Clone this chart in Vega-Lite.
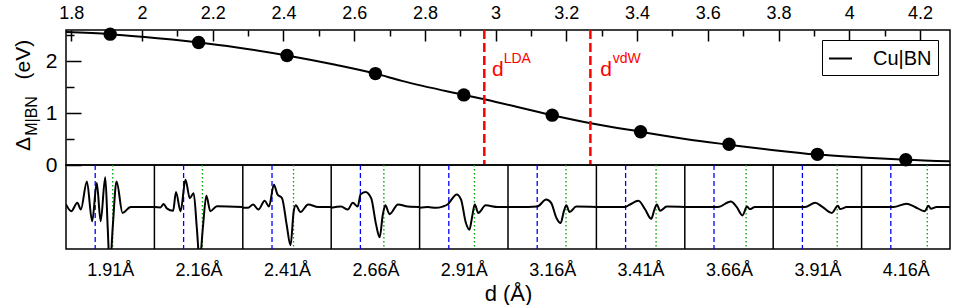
{
  "$schema": "https://vega.github.io/schema/vega-lite/v6.json",
  "padding": {"left": 12, "top": 3, "right": 0, "bottom": 0},
  "spacing": 0,
  "bounds": "flush",
  "config": {
    "font": "Liberation Sans",
    "view": {"stroke": "black", "strokeWidth": 1.5},
    "axis": {"grid": false, "labelFont": "Liberation Sans", "titleFont": "Liberation Sans", "labelColor": "black", "titleColor": "black", "tickColor": "black", "domainColor": "black", "domainWidth": 1.5, "tickWidth": 1.5, "titleFontWeight": "normal"},
    "text": {"font": "Liberation Sans"}
  },
  "datasets": {
    "curve": [
      {"d": 1.785, "v": 2.56}, {"d": 1.91, "v": 2.52}, {"d": 2.0, "v": 2.47}, {"d": 2.16, "v": 2.36},
      {"d": 2.264, "v": 2.27}, {"d": 2.41, "v": 2.11}, {"d": 2.547, "v": 1.93}, {"d": 2.66, "v": 1.76},
      {"d": 2.735, "v": 1.62}, {"d": 2.91, "v": 1.35}, {"d": 2.971, "v": 1.26}, {"d": 3.16, "v": 0.96},
      {"d": 3.273, "v": 0.8}, {"d": 3.41, "v": 0.64}, {"d": 3.536, "v": 0.5}, {"d": 3.66, "v": 0.39},
      {"d": 3.781, "v": 0.29}, {"d": 3.91, "v": 0.2}, {"d": 4.064, "v": 0.135}, {"d": 4.16, "v": 0.1},
      {"d": 4.285, "v": 0.07}
    ],
    "dots": [
      {"d": 1.91, "v": 2.52}, {"d": 2.16, "v": 2.36}, {"d": 2.41, "v": 2.11}, {"d": 2.66, "v": 1.76},
      {"d": 2.91, "v": 1.35}, {"d": 3.16, "v": 0.96}, {"d": 3.41, "v": 0.64}, {"d": 3.66, "v": 0.4},
      {"d": 3.91, "v": 0.205}, {"d": 4.16, "v": 0.1}
    ],
    "refs": [{"d": 2.968, "name": "LDA"}, {"d": 3.268, "name": "vdW"}],
    "bounds": [{"d": 2.035}, {"d": 2.285}, {"d": 2.535}, {"d": 2.785}, {"d": 3.035}, {"d": 3.285}, {"d": 3.535}, {"d": 3.785}, {"d": 4.035}],
    "metal": [{"d": 1.8676}, {"d": 2.1176}, {"d": 2.3676}, {"d": 2.6176}, {"d": 2.8676}, {"d": 3.1176}, {"d": 3.3676}, {"d": 3.6176}, {"d": 3.8676}, {"d": 4.1176}],
    "bn": [{"d": 1.9171}, {"d": 2.1707}, {"d": 2.4284}, {"d": 2.684}, {"d": 2.94}, {"d": 3.199}, {"d": 3.4538}, {"d": 3.7084}, {"d": 3.966}, {"d": 4.2208}],
    "strip": [
      {"p": 1, "d": 1.785, "v": 0.06}, {"p": 1, "d": 1.8, "v": -0.1}, {"p": 1, "d": 1.817, "v": 0.1}, {"p": 1, "d": 1.827, "v": -0.06},
      {"p": 1, "d": 1.844, "v": 0.61}, {"p": 1, "d": 1.859, "v": -0.34}, {"p": 1, "d": 1.872, "v": 0.57}, {"p": 1, "d": 1.883, "v": -0.34},
      {"p": 1, "d": 1.896, "v": 0.71}, {"p": 1, "d": 1.903, "v": -0.5}, {"p": 1, "d": 1.909, "v": -1.5}, {"p": 1, "d": 1.917, "v": -0.5},
      {"p": 1, "d": 1.928, "v": 0.61}, {"p": 1, "d": 1.945, "v": -0.14}, {"p": 1, "d": 1.968, "v": 0}, {"p": 1, "d": 2.035, "v": 0},
      {"p": 2, "d": 2.035, "v": 0}, {"p": 2, "d": 2.052, "v": -0.01}, {"p": 2, "d": 2.061, "v": 0.07}, {"p": 2, "d": 2.071, "v": -0.04},
      {"p": 2, "d": 2.088, "v": -0.09}, {"p": 2, "d": 2.096, "v": 0.36}, {"p": 2, "d": 2.109, "v": -0.1}, {"p": 2, "d": 2.123, "v": 0.65},
      {"p": 2, "d": 2.135, "v": 0.21}, {"p": 2, "d": 2.146, "v": 0.33}, {"p": 2, "d": 2.155, "v": -0.5}, {"p": 2, "d": 2.163, "v": -1.3},
      {"p": 2, "d": 2.172, "v": -0.5}, {"p": 2, "d": 2.182, "v": 0.27}, {"p": 2, "d": 2.193, "v": -0.1}, {"p": 2, "d": 2.212, "v": 0.02},
      {"p": 2, "d": 2.285, "v": 0},
      {"p": 3, "d": 2.285, "v": -0.02}, {"p": 3, "d": 2.3, "v": -0.02}, {"p": 3, "d": 2.314, "v": 0.06}, {"p": 3, "d": 2.329, "v": -0.06},
      {"p": 3, "d": 2.347, "v": 0.15}, {"p": 3, "d": 2.359, "v": 0.01}, {"p": 3, "d": 2.373, "v": 0.53}, {"p": 3, "d": 2.383, "v": 0.3},
      {"p": 3, "d": 2.396, "v": 0.21}, {"p": 3, "d": 2.409, "v": -0.42}, {"p": 3, "d": 2.42, "v": -0.91}, {"p": 3, "d": 2.429, "v": -0.1},
      {"p": 3, "d": 2.435, "v": 0.04}, {"p": 3, "d": 2.448, "v": -0.12}, {"p": 3, "d": 2.47, "v": 0.06}, {"p": 3, "d": 2.498, "v": 0},
      {"p": 3, "d": 2.535, "v": 0},
      {"p": 4, "d": 2.535, "v": -0.02}, {"p": 4, "d": 2.563, "v": 0.01}, {"p": 4, "d": 2.582, "v": -0.06}, {"p": 4, "d": 2.596, "v": 0.1},
      {"p": 4, "d": 2.61, "v": 0.01}, {"p": 4, "d": 2.618, "v": 0.3}, {"p": 4, "d": 2.632, "v": 0.36}, {"p": 4, "d": 2.648, "v": 0.21},
      {"p": 4, "d": 2.662, "v": -0.42}, {"p": 4, "d": 2.672, "v": -0.72}, {"p": 4, "d": 2.681, "v": -0.18}, {"p": 4, "d": 2.688, "v": 0.04},
      {"p": 4, "d": 2.7, "v": -0.17}, {"p": 4, "d": 2.724, "v": 0.06}, {"p": 4, "d": 2.752, "v": 0.01}, {"p": 4, "d": 2.785, "v": 0},
      {"p": 5, "d": 2.785, "v": -0.02}, {"p": 5, "d": 2.808, "v": 0}, {"p": 5, "d": 2.831, "v": -0.02}, {"p": 5, "d": 2.85, "v": 0.01},
      {"p": 5, "d": 2.864, "v": 0.06}, {"p": 5, "d": 2.89, "v": 0.3}, {"p": 5, "d": 2.902, "v": 0.18}, {"p": 5, "d": 2.916, "v": -0.38},
      {"p": 5, "d": 2.926, "v": -0.54}, {"p": 5, "d": 2.933, "v": -0.26}, {"p": 5, "d": 2.941, "v": 0.06}, {"p": 5, "d": 2.951, "v": -0.14},
      {"p": 5, "d": 2.972, "v": 0.04}, {"p": 5, "d": 3.006, "v": 0}, {"p": 5, "d": 3.035, "v": 0},
      {"p": 6, "d": 3.035, "v": 0}, {"p": 6, "d": 3.092, "v": 0}, {"p": 6, "d": 3.118, "v": 0.01}, {"p": 6, "d": 3.143, "v": 0.18},
      {"p": 6, "d": 3.157, "v": 0.1}, {"p": 6, "d": 3.172, "v": -0.26}, {"p": 6, "d": 3.184, "v": -0.38}, {"p": 6, "d": 3.193, "v": -0.1},
      {"p": 6, "d": 3.2, "v": 0.04}, {"p": 6, "d": 3.209, "v": -0.12}, {"p": 6, "d": 3.228, "v": 0.01}, {"p": 6, "d": 3.285, "v": 0},
      {"p": 7, "d": 3.285, "v": 0}, {"p": 7, "d": 3.366, "v": 0}, {"p": 7, "d": 3.38, "v": 0.06}, {"p": 7, "d": 3.404, "v": 0.15},
      {"p": 7, "d": 3.423, "v": -0.06}, {"p": 7, "d": 3.44, "v": -0.28}, {"p": 7, "d": 3.449, "v": -0.06}, {"p": 7, "d": 3.456, "v": 0.06},
      {"p": 7, "d": 3.465, "v": -0.09}, {"p": 7, "d": 3.484, "v": 0.01}, {"p": 7, "d": 3.535, "v": 0},
      {"p": 8, "d": 3.535, "v": 0}, {"p": 8, "d": 3.629, "v": 0}, {"p": 8, "d": 3.665, "v": 0.13}, {"p": 8, "d": 3.681, "v": 0.01},
      {"p": 8, "d": 3.698, "v": -0.2}, {"p": 8, "d": 3.711, "v": 0.01}, {"p": 8, "d": 3.719, "v": -0.05}, {"p": 8, "d": 3.733, "v": 0},
      {"p": 8, "d": 3.785, "v": 0},
      {"p": 9, "d": 3.785, "v": 0}, {"p": 9, "d": 3.875, "v": 0}, {"p": 9, "d": 3.904, "v": 0.1}, {"p": 9, "d": 3.923, "v": 0.01},
      {"p": 9, "d": 3.951, "v": -0.14}, {"p": 9, "d": 3.968, "v": 0.03}, {"p": 9, "d": 3.974, "v": -0.05}, {"p": 9, "d": 3.993, "v": 0},
      {"p": 9, "d": 4.035, "v": 0},
      {"p": 10, "d": 4.035, "v": 0}, {"p": 10, "d": 4.125, "v": 0}, {"p": 10, "d": 4.162, "v": 0.08}, {"p": 10, "d": 4.186, "v": 0},
      {"p": 10, "d": 4.214, "v": -0.1}, {"p": 10, "d": 4.224, "v": 0.03}, {"p": 10, "d": 4.231, "v": -0.04}, {"p": 10, "d": 4.247, "v": 0},
      {"p": 10, "d": 4.285, "v": 0}
    ]
  },
  "vconcat": [
    {
      "width": 884,
      "height": 135,
      "layer": [
        {
          "layer": [
            {
              "data": {"name": "curve"},
              "mark": {"type": "line", "interpolate": "monotone", "strokeWidth": 2},
              "encoding": {
                "x": {"field": "d", "type": "quantitative", "scale": {"domain": [1.785, 4.285], "nice": false, "zero": false},
                      "axis": {"orient": "top", "values": [1.8, 2, 2.2, 2.4, 2.6, 2.8, 3, 3.2, 3.4, 3.6, 3.8, 4, 4.2], "format": "~g", "offset": -11, "tickSize": 11, "domain": false, "labelPadding": 8, "labelFontSize": 18, "title": null}},
                "y": {"field": "v", "type": "quantitative", "scale": {"domain": [0, 2.6], "nice": false, "zero": false},
                      "axis": {"values": [0, 1, 2], "format": "~g", "offset": -15, "tickSize": 15, "domain": false, "labelPadding": 9, "labelFontSize": 21, "title": null}},
                "color": {"datum": "Cu|BN", "type": "nominal", "scale": {"range": ["black"]},
                          "legend": {"title": null, "orient": "none", "legendX": 756, "legendY": 10, "symbolType": "stroke", "symbolStrokeWidth": 2, "symbolSize": 529, "labelFontSize": 20, "labelFont": "Liberation Sans", "labelColor": "black", "strokeColor": "black", "fillColor": "white", "padding": 6, "labelOffset": 20}}
              }
            },
            {
              "data": {"name": "refs"},
              "mark": {"type": "rule", "color": "#ff0000", "strokeWidth": 2.5, "strokeDash": [9, 4]},
              "encoding": {"x": {"field": "d", "type": "quantitative"}}
            },
            {
              "data": {"values": [{}]},
              "mark": {"type": "text", "text": "d", "color": "#ff0000", "fontSize": 21, "align": "left", "baseline": "alphabetic"},
              "encoding": {"x": {"datum": 2.9897, "type": "quantitative"}, "y": {"datum": 1.715, "type": "quantitative"}}
            },
            {
              "data": {"values": [{}]},
              "mark": {"type": "text", "text": "LDA", "color": "#ff0000", "fontSize": 14, "align": "left", "baseline": "alphabetic"},
              "encoding": {"x": {"datum": 3.0228, "type": "quantitative"}, "y": {"datum": 1.971, "type": "quantitative"}}
            },
            {
              "data": {"values": [{}]},
              "mark": {"type": "text", "text": "d", "color": "#ff0000", "fontSize": 21, "align": "left", "baseline": "alphabetic"},
              "encoding": {"x": {"datum": 3.296, "type": "quantitative"}, "y": {"datum": 1.715, "type": "quantitative"}}
            },
            {
              "data": {"values": [{}]},
              "mark": {"type": "text", "text": "vdW", "color": "#ff0000", "fontSize": 14, "align": "left", "baseline": "alphabetic"},
              "encoding": {"x": {"datum": 3.331, "type": "quantitative"}, "y": {"datum": 1.971, "type": "quantitative"}}
            },
            {
              "data": {"values": [{}]},
              "mark": {"type": "text", "text": "(eV)", "color": "black", "fontSize": 21, "angle": 270, "align": "center", "baseline": "middle"},
              "encoding": {"x": {"datum": 1.666, "type": "quantitative"}, "y": {"datum": 2.03, "type": "quantitative"}}
            },
            {
              "data": {"values": [{}]},
              "mark": {"type": "text", "text": "M|BN", "color": "black", "fontSize": 16, "angle": 270, "align": "center", "baseline": "middle"},
              "encoding": {"x": {"datum": 1.689, "type": "quantitative"}, "y": {"datum": 0.944, "type": "quantitative"}}
            },
            {
              "data": {"values": [{}]},
              "mark": {"type": "text", "text": "Δ", "color": "black", "fontSize": 21, "angle": 270, "align": "center", "baseline": "middle"},
              "encoding": {"x": {"datum": 1.666, "type": "quantitative"}, "y": {"datum": 0.405, "type": "quantitative"}}
            }
          ]
        },
        {
          "data": {"name": "dots"},
          "mark": {"type": "circle", "size": 180, "color": "black", "opacity": 1},
          "encoding": {
            "x": {"field": "d", "type": "quantitative", "scale": {"domain": [1.785, 4.285], "nice": false, "zero": false},
                  "axis": {"orient": "top", "values": [1.9, 2.1, 2.3, 2.5, 2.7, 2.9, 3.1, 3.3, 3.5, 3.7, 3.9, 4.1], "labels": false, "domain": false, "offset": -6, "tickSize": 6, "title": null}},
            "y": {"field": "v", "type": "quantitative", "scale": {"domain": [0, 2.6], "nice": false, "zero": false},
                  "axis": {"orient": "left", "values": [0.5, 1.5, 2.5], "labels": false, "domain": false, "offset": -8, "tickSize": 8, "title": null}}
          }
        }
      ],
      "resolve": {"axis": {"x": "independent", "y": "independent"}}
    },
    {
      "width": 884,
      "height": 84,
      "encoding": {
        "x": {"field": "d", "type": "quantitative", "scale": {"domain": [1.785, 4.285], "nice": false, "zero": false},
              "axis": {"orient": "bottom", "values": [1.91, 2.16, 2.41, 2.66, 2.91, 3.16, 3.41, 3.66, 3.91, 4.16], "labelExpr": "format(datum.value, '.2f') + 'Å'", "ticks": false, "domain": false, "labelPadding": 12, "labelFontSize": 18, "title": "d (Å)", "titleFontSize": 22, "titlePadding": 4}}
      },
      "layer": [
        {
          "data": {"name": "bounds"},
          "mark": {"type": "rule", "color": "black", "strokeWidth": 1.5}
        },
        {
          "data": {"name": "metal"},
          "mark": {"type": "rule", "color": "#0000ff", "strokeWidth": 1.3, "strokeDash": [5, 3]}
        },
        {
          "data": {"name": "bn"},
          "mark": {"type": "rule", "color": "#00a000", "strokeWidth": 1.3, "strokeDash": [1.5, 2.5]}
        },
        {
          "data": {"name": "strip"},
          "mark": {"type": "line", "interpolate": "monotone", "strokeWidth": 2, "color": "black", "clip": true},
          "encoding": {
            "y": {"field": "v", "type": "quantitative", "scale": {"domain": [-1, 1], "nice": false, "zero": false}, "axis": null},
            "detail": {"field": "p", "type": "nominal"}
          }
        }
      ]
    }
  ]
}
